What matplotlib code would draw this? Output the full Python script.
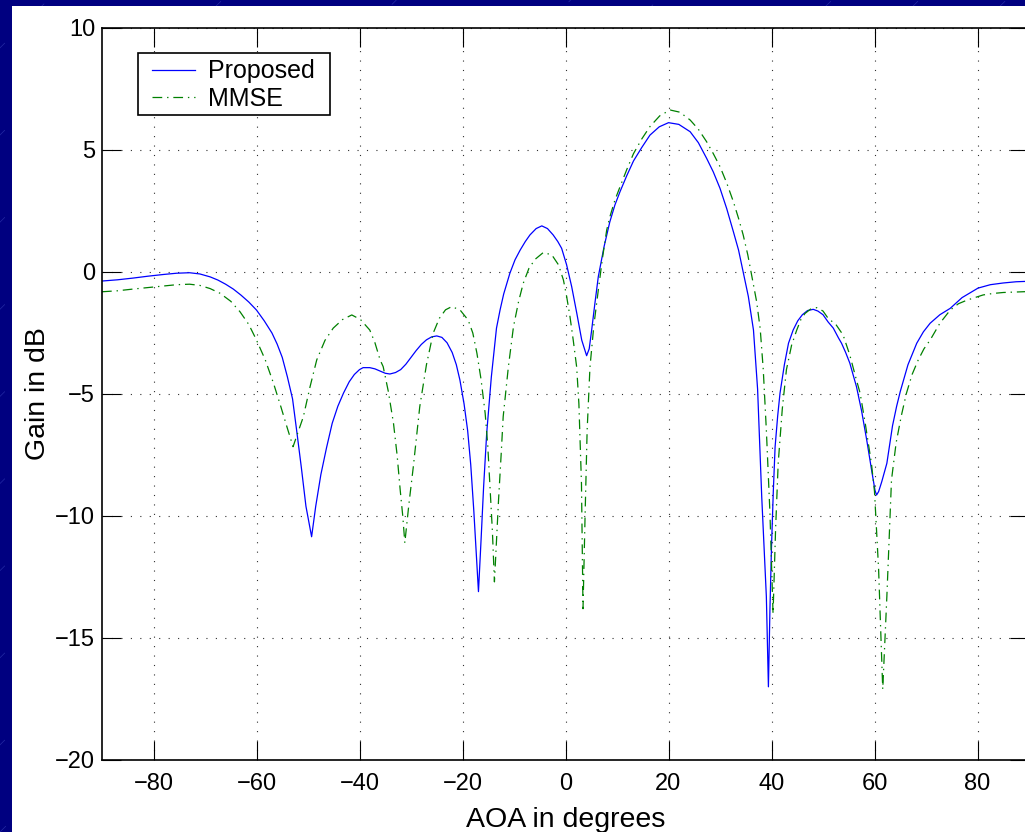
import matplotlib
matplotlib.use('Agg')
import matplotlib.pyplot as plt
from matplotlib.patches import Rectangle
from matplotlib.lines import Line2D

plt.rcParams['font.family'] = ['Liberation Sans', 'DejaVu Sans']
plt.rcParams['lines.scale_dashes'] = False

# values (angle in degrees, gain in dB)
aoa_prop = [-90, -87, -84, -81, -78, -75.5, -73, -71, -69, -67.5, -66, -64.5,
            -63, -61.5, -60, -58.5, -57, -56, -55, -54, -53, -52.2, -51.3,
            -50.4, -49.3, -48.5, -47.5, -46.4, -45.3, -44.2, -43.1, -42, -41,
            -40, -39.3, -38, -37, -36, -35, -34.1, -33, -32, -31, -30, -29,
            -28, -27, -26, -25, -24, -23, -22, -21.2, -20.5, -19.7, -19, -18.4,
            -17.8, -17.3, -16.9, -16.4, -15.9, -15.3, -14.8, -14.4, -13.4,
            -12.7, -12, -10.8, -9.8, -8.8, -7.8, -6.9, -5.7, -4.6, -3.5,
            -2.4, -1.5, -0.75, 0.22, 1.2, 2.2, 3.15, 4.1, 4.6, 5.08, 5.7,
            6.37, 7.5, 8.6, 9.6, 10.6, 11.9, 13.2, 14.8, 16.4, 18.2,
            20, 22, 24.2, 25.8, 27.4, 28.7, 30, 31.3, 32.6, 33.6, 34.5, 35.5,
            36.5, 37.3, 38.1, 39.0, 39.4, 39.7, 40.0, 40.35, 40.7, 41.2, 41.65,
            42.5, 43.3, 44.2, 45.1, 46, 47, 48.1, 49, 50, 51, 52, 53, 53.6,
            54.4, 55.2, 56.5, 57.5, 58.5, 59.5, 60.1, 60.4, 60.8, 61.4, 62.4,
            63.5, 64.3, 65, 66.5, 68.2, 69.5, 70.8, 72.7, 74.7, 77, 80.1,
            82.5, 85, 87.5, 90]
gain_prop = [-0.37, -0.32, -0.25, -0.17, -0.1, -0.05, -0.03, -0.08, -0.2,
             -0.33, -0.5, -0.7, -0.95, -1.23, -1.56, -2.0, -2.5, -2.95, -3.5,
             -4.3, -5.2, -6.5, -8.0, -9.6, -10.85, -9.6, -8.3, -7.2, -6.2,
             -5.5, -4.96, -4.5, -4.2, -4.0, -3.92, -3.92, -3.97, -4.06, -4.15,
             -4.18, -4.12, -4.0, -3.78, -3.5, -3.22, -2.97, -2.78, -2.66,
             -2.62, -2.68, -2.9, -3.3, -3.8, -4.43, -5.4, -6.5, -7.9, -9.8,
             -11.6, -13.1, -11.0, -8.8, -6.6, -5.3, -4.3, -2.3, -1.55, -0.9,
             -0.05, 0.5, 0.9, 1.25, 1.52, 1.78, 1.89, 1.78, 1.52, 1.25, 0.97,
             0.29, -0.6, -1.7, -2.79, -3.43, -3.15, -2.38, -1.3,
             -0.19, 1.05, 2.05, 2.75, 3.3, 3.95, 4.55, 5.1,
             5.61, 5.95, 6.12, 6.05, 5.75, 5.3, 4.66, 4.1, 3.43, 2.6, 1.65,
             0.9, 0.01, -1.0, -2.38, -4.8, -9.2, -13.3, -17.0, -13.8, -11.26,
             -9.0, -7.16, -5.9, -4.97, -3.8, -2.92, -2.38, -2.0, -1.75, -1.58,
             -1.53, -1.6, -1.75, -2.05, -2.3, -2.7, -2.92, -3.3, -3.73, -4.7,
             -5.7, -6.9, -8.2, -8.95, -9.14, -9.0, -8.6, -7.84, -6.3, -5.5,
             -4.9, -3.8, -2.92, -2.45, -2.1, -1.75, -1.49, -1.05, -0.66, -0.52,
             -0.45, -0.4, -0.38]

aoa_mmse = [-90, -87, -84, -80.7, -78, -75.5, -73, -71, -69, -67.1, -65,
            -63.2, -61.5, -60, -58.3, -56.7, -55.3, -54.1, -52.9, -52.0,
            -50.9, -49.6, -48.3, -46.7, -45.1, -43.3, -41.5, -39.8, -38.0,
            -37, -36, -35.4, -34.4, -33.4, -32.7, -32.1, -31.6, -31.2, -30.4,
            -29.55, -28.3, -27, -25.7, -24.5, -23.3, -22.1, -20.5, -18.9, -18,
            -17.2, -16.4, -15.6, -15.1, -14.7, -14.2, -13.8, -13.4, -13.0,
            -12.5, -12.1, -11.1, -10.1, -9.1, -8.2, -7.1, -5.9, -4.3, -2.65,
            -1.35, -0.4, 0.22, 0.87, 1.5, 2.17, 2.6, 3.1, 3.4, 3.8, 4.2, 4.75,
            5.5, 6.37, 7.2, 8.0, 8.6, 9.6, 10.6, 11.9, 13.2, 14.8, 16.4,
            18.3, 20.3, 22.2, 24.2, 25.8, 27.4, 28.7, 30, 31.3, 32.6, 33.6,
            34.5, 35.4, 36.3, 37.1, 37.8, 38.4, 39.0, 39.7, 40.3, 40.8, 41.3,
            42.1, 42.9, 43.9, 44.9, 45.7, 46.5, 47.6, 48.8, 50, 51, 52.5,
            53.9, 55.2, 56.5, 57.2, 58.2, 59.4, 60.0, 60.4, 60.8, 61.1, 61.6,
            62.0, 62.4, 62.9, 63.3, 64.2, 65.2, 66.2, 67.3, 68.5, 69.6, 70.8,
            72.7, 74.7, 76.3, 78, 81.1, 83, 85, 87.5, 90]
gain_mmse = [-0.81, -0.77, -0.7, -0.63, -0.57, -0.52, -0.5, -0.55, -0.68,
             -0.87, -1.2, -1.63, -2.15, -2.79, -3.6, -4.56, -5.5, -6.34, -7.16,
             -6.6, -5.93, -4.7, -3.6, -2.8, -2.3, -1.95, -1.76, -1.95, -2.38,
             -2.9, -3.6, -3.88, -4.9, -6.2, -7.5, -8.93, -10.0, -11.1, -9.5,
             -7.98, -5.52, -3.8, -2.51, -1.9, -1.55, -1.42, -1.55, -1.97, -2.5,
             -3.33, -4.4, -5.79, -7.1, -8.66, -10.6, -12.7, -11.0, -9.34, -7.5,
             -5.93, -3.9, -2.24, -1.2, -0.46, 0.15, 0.52, 0.8, 0.7,
             0.29, -0.33, -1.0, -1.83, -2.79, -3.9, -5.4, -8.66, -13.8, -10.0,
             -6.5, -3.9, -2.2, -0.74, 0.6, 1.72, 2.25, 2.95, 3.5, 4.2, 4.85,
             5.45, 5.96, 6.4, 6.64, 6.55, 6.23, 5.85, 5.34, 4.85, 4.32, 3.65,
             2.88, 2.2, 1.52, 0.7, -0.3, -1.2, -2.31, -4.0, -6.48, -9.89, -14.0,
             -10.5, -7.84, -5.6, -4.0, -3.0, -2.38, -1.95, -1.7, -1.52, -1.46,
             -1.6, -1.9, -2.15, -2.58, -3.4, -4.43, -4.96, -6.2, -7.84, -9.0,
             -10.57, -12.2, -14.0, -17.1, -15.2, -13.3, -10.6, -8.52, -7.0,
             -5.9, -4.97, -4.2, -3.6, -3.15, -2.79, -2.1, -1.56, -1.3, -1.15,
             -0.94, -0.88, -0.84, -0.82, -0.8]

W, H = 1025, 832
fig = plt.figure(figsize=(W / 100, H / 100), dpi=100, facecolor='#000080')

# slide background: faint diagonal streaks, then the white panel
for k in range(-14, 14):
    x0 = k * 0.085
    fig.add_artist(Line2D([x0, x0 + H / W], [0, 1], transform=fig.transFigure,
                          color='#5a6ad8', lw=0.5, alpha=0.4,
                          linestyle=(0, (6, 14)), zorder=-3))
fig.add_artist(Rectangle((12 / W, 0), 1, 1 - 6 / H, transform=fig.transFigure,
                         facecolor='white', edgecolor='none', zorder=-2))

ax = fig.add_axes([102 / W, 72 / H, 927 / W, 732 / H])
ax.set_facecolor('white')

ax.plot(aoa_prop, gain_prop, color='#0000ff', lw=0.9, label='Proposed')
ax.plot(aoa_mmse, gain_mmse, color='#008000', lw=0.9,
        linestyle=(0, (7, 3.5, 1, 3.5)), label='MMSE')

ax.set_xlim(-90, 90)
ax.set_ylim(-20, 10)
ax.set_xticks(range(-80, 81, 20))
ax.set_yticks(range(-20, 11, 5))
ax.grid(True, color='#303030', linestyle=(0, (0.8, 6)), lw=0.8)

ax.tick_params(direction='in', length=14, width=0.8, top=True, right=True,
               labelsize=17)
ax.tick_params(axis='x', pad=9)
ax.tick_params(axis='y', pad=5)
for s in ax.spines.values():
    s.set_linewidth(1.2)

ax.set_xlabel('AOA in degrees', fontsize=20.5, labelpad=9)
ax.set_ylabel('Gain in dB', fontsize=20.5, labelpad=3)

# legend box drawn separately so its size matches the reference
ax.add_patch(Rectangle((0.0388, 0.881), 0.2072, 0.085, transform=ax.transAxes,
                       facecolor='white', edgecolor='k', lw=1.2, zorder=4))
leg = ax.legend(loc='upper left', bbox_to_anchor=(0.0539, 0.957), fontsize=18,
                frameon=False, borderaxespad=0, borderpad=0,
                handlelength=1.72, labelspacing=0.15, handletextpad=0.52)
leg.set_zorder(5)

fig.savefig('out.png', dpi=100, facecolor=fig.get_facecolor())
